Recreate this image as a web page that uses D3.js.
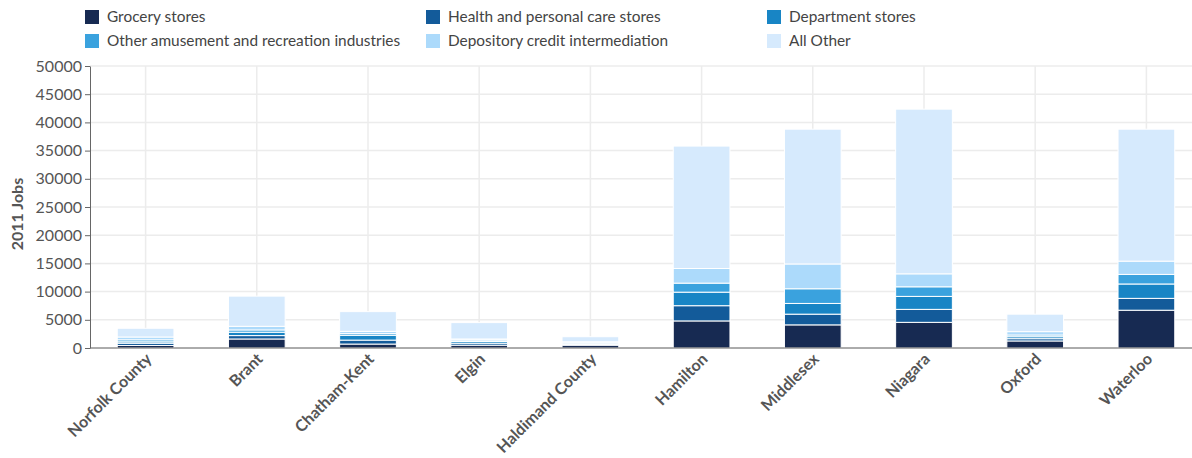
<!DOCTYPE html>
<html>
<head lang="en">
    <meta charset="UTF-8">
    <title></title>
    <script src="https://cdn.jsdelivr.net/npm/d3@7"></script>
    <style>
        body{margin:0;background:#fff;font-family:Lato,"Open Sans",sans-serif;overflow:hidden;}
        .grid line{stroke:#ececec;stroke-width:1.5px;}
        .axis path,.axis line{stroke:#666;}
        .axis text{fill:#555;font-size:16px;font-family:Lato,sans-serif;}
        .xlab{fill:#555;font-size:16px;font-weight:bold;font-family:Lato,sans-serif;}
        .legend text{fill:#444;font-size:15.4px;font-family:Lato,sans-serif;}
    </style>
</head>
<body>
    <div id="tu1"></div>
</body>
</html>
<script>
    var regions=['Norfolk County','Brant','Chatham-Kent','Elgin','Haldimand County',
        'Hamilton','Middlesex','Niagara','Oxford','Waterloo'];
    var industries=['Grocery stores','Health and personal care stores','Department stores',
        'Other amusement and recreation industries','Depository credit intermediation','All Other'];
    var colors=['#172a52','#135b9a','#1885c5','#3aa2de','#acdafb','#d6eafd'];
    var grocery   =[450,1600,700,500,500,4800,4100,4550,1250,6700];
    var health    =[400,600,700,350,100,2700,1900,2300,400,2100];
    var department=[250,600,850,300,100,2400,1900,2300,350,2550];
    var amusement =[350,400,300,250,200,1600,2600,1700,300,1700];
    var depository=[500,650,400,200,200,2600,4400,2300,600,2350];
    var allother  =[1550,5350,3500,2900,900,21700,23900,29200,3100,23400];
    var yticks=[0,5000,10000,15000,20000,25000,30000,35000,40000,45000,50000];

    function drawStack(divname){
        var svgwidth=1192,svgheight=458;
        var left=90,right=1192,top=66,bottom=348;
        var series=[grocery,health,department,amusement,depository,allother];
        var rows=regions.map(function(r,i){
            var o={region:r};
            industries.forEach(function(k,j){o[k]=series[j][i];});
            return o;
        });
        var _stack=d3.stack().keys(industries)(rows);

        // band range runs a bit past the right edge, like the original
        var x=d3.scaleBand().domain(regions).range([left,1202]).paddingInner(0.49).paddingOuter(0.245);
        var y=d3.scaleLinear().domain([0,50000]).range([bottom,top]);
        var _svg=d3.select('#'+divname).append('svg')
                .attr('width',svgwidth).attr('height',svgheight);

        // grid
        var g=_svg.append('g').attr('class','grid');
        g.selectAll('.h').data(yticks).enter().append('line')
                .attr('x1',left).attr('x2',right)
                .attr('y1',function(d){return y(d)}).attr('y2',function(d){return y(d)});
        g.selectAll('.v').data(regions).enter().append('line')
                .attr('x1',function(d){return x(d)+x.bandwidth()/2})
                .attr('x2',function(d){return x(d)+x.bandwidth()/2})
                .attr('y1',top).attr('y2',bottom);

        // bars
        _svg.selectAll('g.layer').data(_stack).enter().append('g')
                .attr('class','layer')
                .attr('fill',function(d,i){return colors[i]})
                .selectAll('rect').data(function(d){return d}).enter().append('rect')
                .attr('x',function(d){return x(d.data.region)})
                .attr('width',x.bandwidth())
                .attr('y',function(d){return y(d[1])})
                .attr('height',function(d){return y(d[0])-y(d[1])})
                .attr('stroke','#fff').attr('stroke-width',1);

        // axes
        _svg.append('g').attr('class','axis')
                .attr('transform','translate('+left+',0)')
                .call(d3.axisLeft(y).tickValues(yticks).tickFormat(d3.format('d')).tickSize(5).tickSizeOuter(0));
        _svg.append('line').attr('x1',left).attr('x2',right).attr('y1',bottom).attr('y2',bottom)
                .attr('stroke','#666');
        _svg.selectAll('.xlab').data(regions).enter().append('text')
                .attr('class','xlab')
                .attr('text-anchor','end')
                .attr('transform',function(d){
                    return 'translate('+(x(d)+x.bandwidth()/2+7)+',360) rotate(-45)'
                })
                .text(function(d){return d});
        _svg.append('text')
                .attr('transform','translate(23,214) rotate(-90)')
                .attr('text-anchor','middle')
                .style('fill','#555').style('font-size','16px').style('font-weight','bold')
                .text('2011 Jobs');

        // legend
        var lg=_svg.selectAll('.legend').data(industries).enter().append('g')
                .attr('class','legend')
                .attr('transform',function(d,i){
                    return 'translate('+(85+(i%3)*341)+','+(17+Math.floor(i/3)*24)+')'
                });
        lg.append('rect').attr('x',0).attr('y',-7).attr('width',14).attr('height',14)
                .attr('fill',function(d,i){return colors[i]});
        lg.append('text').attr('x',22).attr('dy','0.35em').text(function(d){return d});
    }
    drawStack('tu1')
</script>
